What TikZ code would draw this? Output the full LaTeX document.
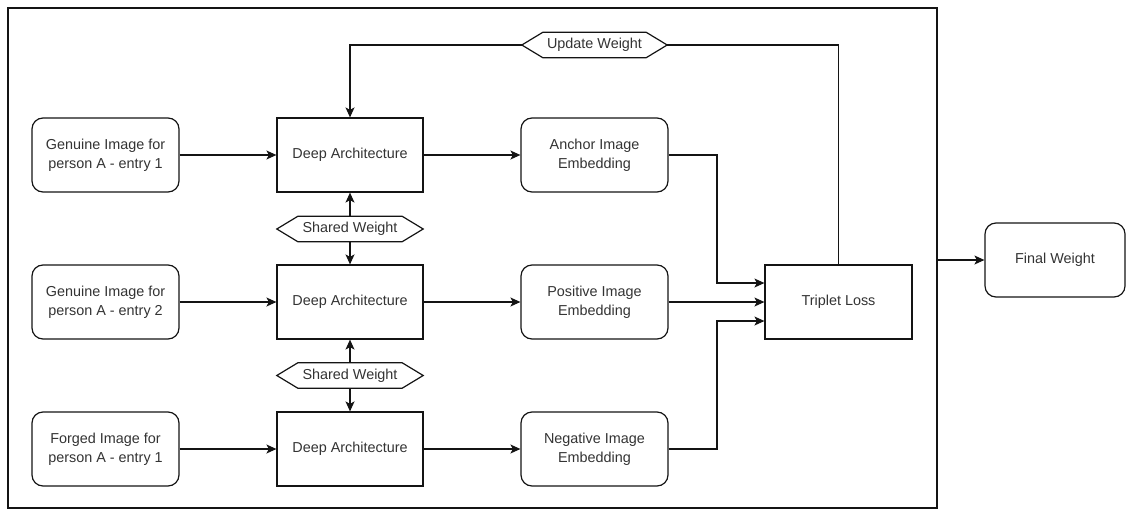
\documentclass[tikz,border=0pt]{standalone}
\usepackage{fontspec}
\setmainfont{Liberation Sans}
\usetikzlibrary{arrows.meta,calc}
\definecolor{txt}{RGB}{51,51,51}
\definecolor{ln}{RGB}{20,20,20}
\tikzset{
  base/.style={draw=ln, line width=1.2pt, inner sep=0pt, align=center, text=txt,
    font=\fontsize{14.4}{19}\selectfont},
  roundbox/.style={base, rounded corners=11pt, minimum width=147pt, minimum height=74pt},
  sqbox/.style={base, minimum width=146pt, minimum height=74pt},
  hexlabel/.style={inner sep=0pt, text=txt, minimum width=146pt, minimum height=25pt,
    font=\fontsize{14.4}{19}\selectfont},
  hexline/.style={draw=ln, line width=1.2pt},
  conn/.style={draw=ln, line width=1.2pt, -{Stealth[length=10pt,width=9pt,inset=2.5pt]}},
  plain/.style={draw=ln, line width=1.2pt},
  framebox/.style={draw=ln, line width=1.2pt, minimum width=929pt, minimum height=500pt, inner sep=0pt}
}
\newcommand\hexshape[1]{\draw[hexline] (#1.west) -- ([xshift=21pt]#1.north west) -- ([xshift=-21pt]#1.north east) -- (#1.east) -- ([xshift=-21pt]#1.south east) -- ([xshift=21pt]#1.south west) -- cycle;}
\begin{document}
\begin{tikzpicture}[x=1pt,y=-1pt]
\useasboundingbox (0,0) rectangle (1126,511);
\node[framebox] (frame) at (472.5,258) {};
% inputs
\node[roundbox] (in1) at (105.5,155) {Genuine Image for\\person A - entry 1};
\node[roundbox] (in2) at (105.5,302) {Genuine Image for\\person A - entry 2};
\node[roundbox] (in3) at (105.5,449) {Forged Image for\\person A - entry 1};
% deep architecture
\node[sqbox] (da1) at (350,155) {Deep Architecture};
\node[sqbox] (da2) at (350,302) {Deep Architecture};
\node[sqbox] (da3) at (350,449) {Deep Architecture};
% embeddings
\node[roundbox] (em1) at (594.5,155) {Anchor Image\\Embedding};
\node[roundbox] (em2) at (594.5,302) {Positive Image\\Embedding};
\node[roundbox] (em3) at (594.5,449) {Negative Image\\Embedding};
% triplet loss
\node[sqbox, minimum width=147pt] (tl) at (838.5,302) {Triplet Loss};
% final weight
\node[roundbox, minimum width=140pt] (fw) at (1055,260) {Final Weight};
% hexagons
\node[hexlabel] (sw1) at (350,229) {Shared Weight};
\node[hexlabel] (sw2) at (350,375.5) {Shared Weight};
\node[hexlabel, minimum width=145pt] (uw) at (594.5,45) {Update Weight};
\hexshape{sw1}
\hexshape{sw2}
\hexshape{uw}
% connectors
\draw[conn] (in1) -- (da1);
\draw[conn] (in2) -- (da2);
\draw[conn] (in3) -- (da3);
\draw[conn] (da1) -- (em1);
\draw[conn] (da2) -- (em2);
\draw[conn] (da3) -- (em3);
\draw[conn] (sw1.north) -- (da1.south);
\draw[conn] (sw1.south) -- (da2.north);
\draw[conn] (sw2.north) -- (da2.south);
\draw[conn] (sw2.south) -- (da3.north);
\coordinate (j1) at (717,155);
\coordinate (j3) at (717,449);
\draw[conn] (em1.east) -- (j1) -- (j1 |- 0,283) -- (tl.west |- 0,283);
\draw[conn] (em2.east) -- (tl.west);
\draw[conn] (em3.east) -- (j3) -- (j3 |- 0,321) -- (tl.west |- 0,321);
\draw[plain] (tl.north) |- (uw.east);
\draw[conn] (uw.west) -| (da1.north);
\draw[conn] (frame.east |- fw.west) -- (fw.west);
\end{tikzpicture}
\end{document}
